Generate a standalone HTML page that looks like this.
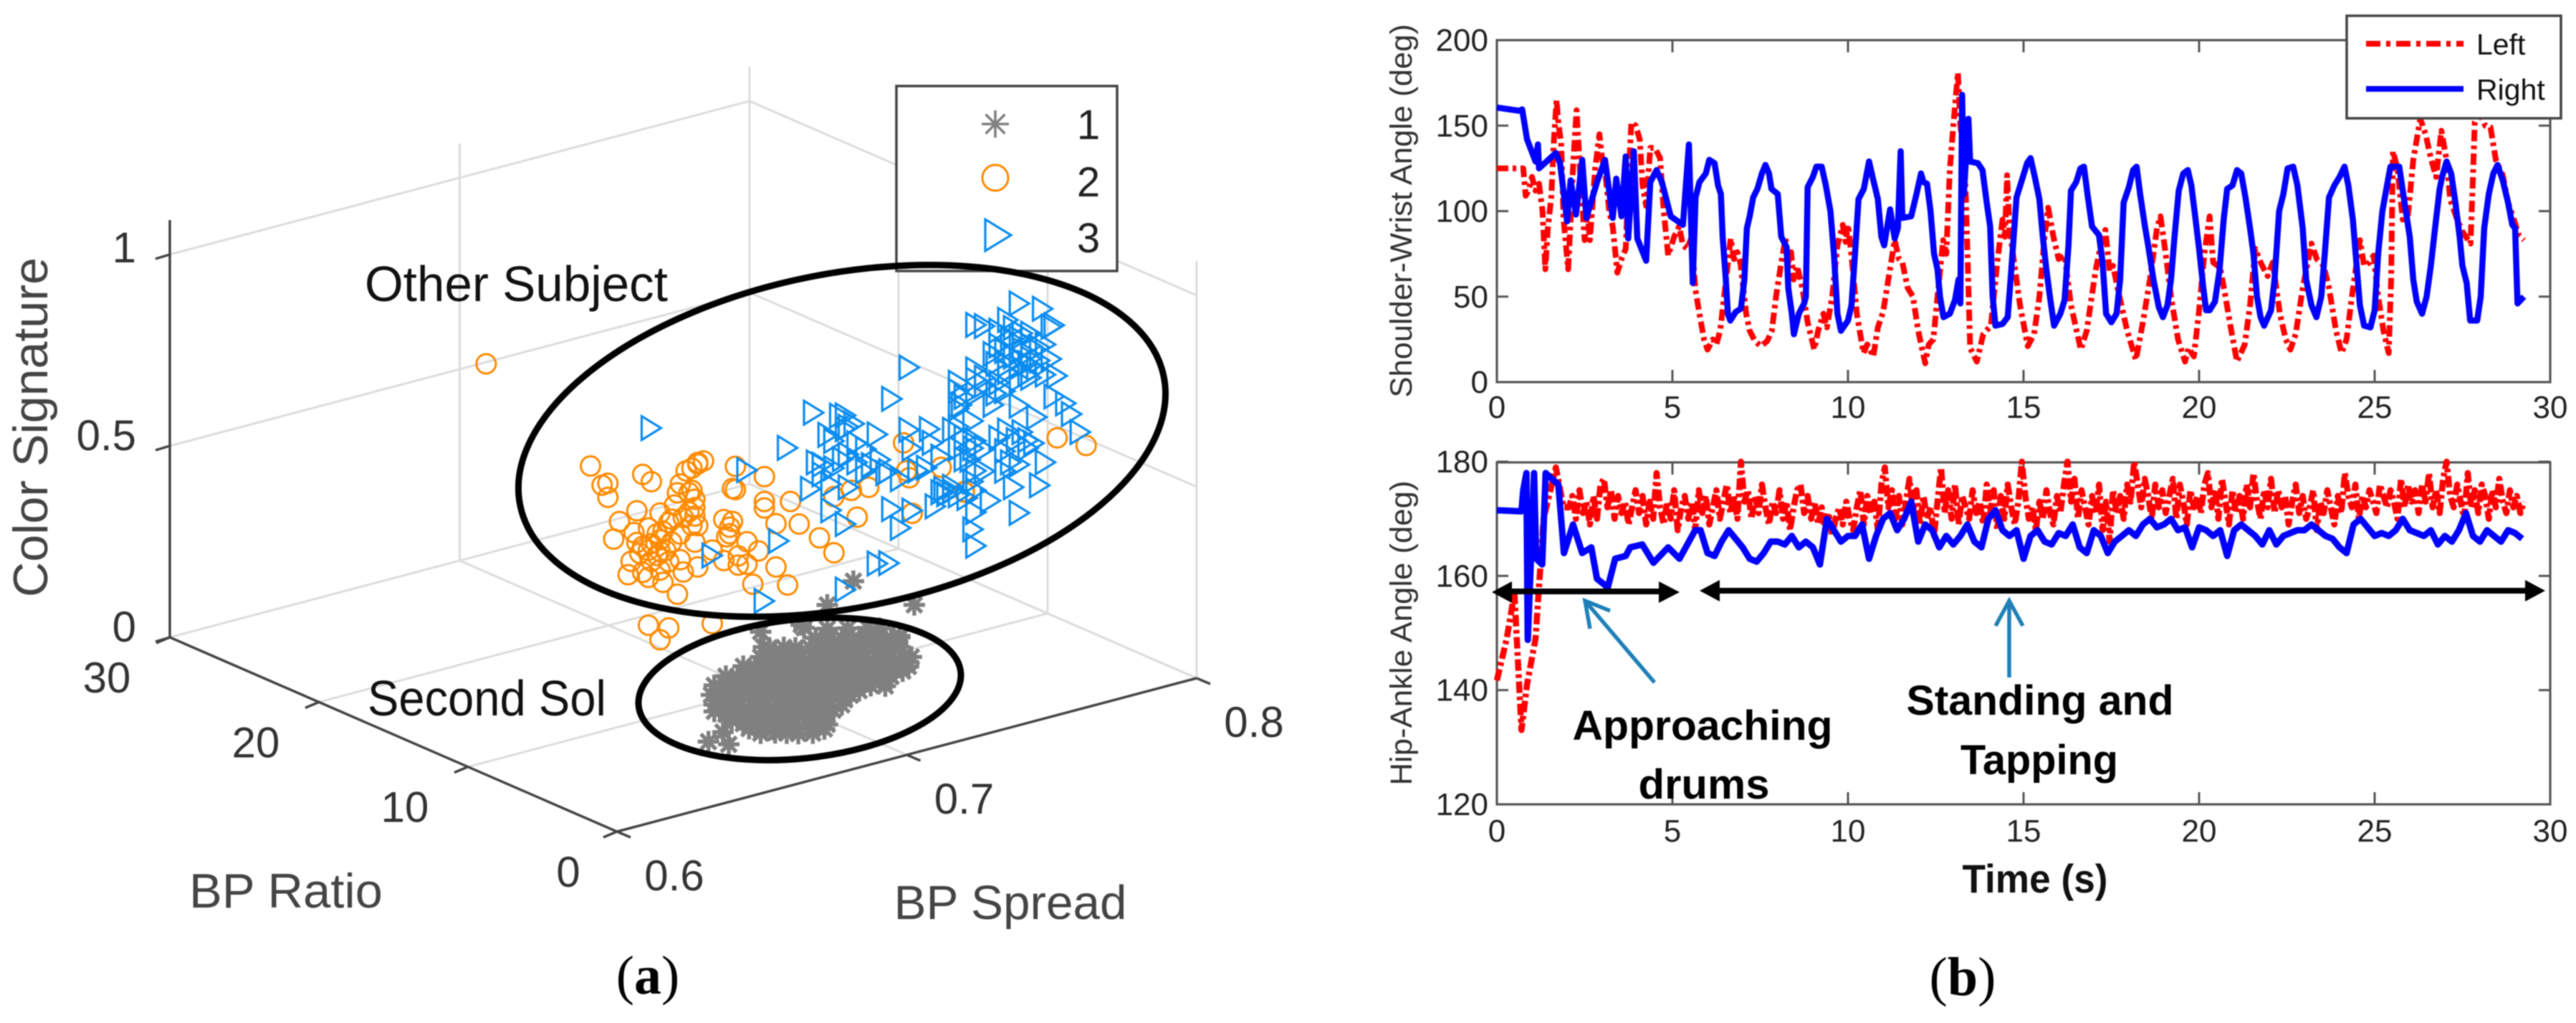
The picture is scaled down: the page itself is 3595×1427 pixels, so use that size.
<!DOCTYPE html>
<html>
<head>
<meta charset="utf-8">
<title>Body pose scatter and joint angle plots</title>
<style>
html,body{margin:0;padding:0;background:#fff;}
svg{display:block;filter:blur(0.7px);font-family:"Liberation Sans",sans-serif;}
</style>
</head>
<body>
<svg id="figure" xmlns="http://www.w3.org/2000/svg" width="3595" height="1427" viewBox="0 0 3595 1427">
<rect width="3595" height="1427" fill="#fff"/>
<g id="grid3d" stroke="#dcdcdc" stroke-width="3" fill="none"></g>
<g id="axes3d" stroke="#444" stroke-width="3.5" fill="none"></g>
<g id="labels3d" font-size="60" fill="#333"></g>
<g id="marks3d" fill="none"></g>

<text transform="translate(66,596) rotate(-90)" text-anchor="middle" font-size="68" fill="#444" textLength="474" lengthAdjust="spacingAndGlyphs">Color Signature</text>
<text x="399" y="1266" text-anchor="middle" font-size="68" fill="#444" textLength="270" lengthAdjust="spacingAndGlyphs">BP Ratio</text>
<text x="1410" y="1282" text-anchor="middle" font-size="67" fill="#444" textLength="325" lengthAdjust="spacingAndGlyphs">BP Spread</text>

<g>
<rect x="1251" y="120" width="308" height="258" fill="#fff" stroke="#444" stroke-width="3.5"/>
<g id="legend3d"></g>
<text x="1519" y="194" text-anchor="middle" font-size="58" fill="#222">1</text>
<text x="1519" y="274" text-anchor="middle" font-size="58" fill="#222">2</text>
<text x="1519" y="352" text-anchor="middle" font-size="58" fill="#222">3</text>
</g>

<ellipse cx="1175" cy="615" rx="458" ry="233" transform="rotate(-11.25 1175 615)" fill="none" stroke="#000" stroke-width="9"/>
<ellipse cx="1116" cy="961" rx="226" ry="97" transform="rotate(-6 1116 961)" fill="none" stroke="#000" stroke-width="9"/>
<text x="509" y="420" font-size="70" fill="#111" textLength="423" lengthAdjust="spacingAndGlyphs">Other Subject</text>
<text x="513" y="998" font-size="70" fill="#111" textLength="333" lengthAdjust="spacingAndGlyphs">Second Sol</text>
<text x="904" y="1386" text-anchor="middle" font-family="'Liberation Serif',serif" font-size="76" fill="#000">(<tspan font-weight="bold">a</tspan>)</text>

<g id="plotUpper"></g>
<g id="plotLower"></g>

<text transform="translate(1970,294) rotate(-90)" text-anchor="middle" font-size="43" fill="#333" textLength="521" lengthAdjust="spacingAndGlyphs">Shoulder-Wrist Angle (deg)</text>
<text transform="translate(1970,883) rotate(-90)" text-anchor="middle" font-size="43" fill="#333" textLength="425" lengthAdjust="spacingAndGlyphs">Hip-Ankle Angle (deg)</text>

<g>
<rect x="3275" y="22" width="299" height="143" fill="#fff" stroke="#444" stroke-width="3.5"/>
<line x1="3302" y1="61" x2="3438" y2="61" stroke="#f00" stroke-width="8" stroke-dasharray="20 8 6 8"/>
<line x1="3302" y1="124" x2="3438" y2="124" stroke="#00f" stroke-width="8"/>
<text x="3456" y="76" font-size="41" fill="#111">Left</text>
<text x="3456" y="139" font-size="41" fill="#111">Right</text>
</g>

<g>
<line x1="2100" y1="825" x2="2325" y2="825" stroke="#000" stroke-width="8"/>
<polygon points="2082,826 2110,811 2110,841" fill="#000"/>
<polygon points="2344,826 2315,811 2315,841" fill="#000"/>
</g>
<g>
<line x1="2390" y1="824" x2="3535" y2="824" stroke="#000" stroke-width="8"/>
<polygon points="2372,824 2400,809 2400,839" fill="#000"/>
<polygon points="3552,824 3524,809 3524,839" fill="#000"/>
</g>
<g stroke="#1f80b8" stroke-width="5.5" fill="none">
<line x1="2309" y1="952" x2="2212" y2="838"/>
<polyline points="2247,852 2212,838 2219,877"/>
</g>
<g stroke="#1f80b8" stroke-width="5.5" fill="none">
<line x1="2804" y1="945" x2="2804" y2="838"/>
<polyline points="2785,873 2804,838 2823,873"/>
</g>

<text x="2376" y="1032" text-anchor="middle" font-size="58" font-weight="bold" fill="#000" textLength="363" lengthAdjust="spacingAndGlyphs">Approaching</text>
<text x="2378" y="1114" text-anchor="middle" font-size="58" font-weight="bold" fill="#000" textLength="183" lengthAdjust="spacingAndGlyphs">drums</text>
<text x="2847" y="997" text-anchor="middle" font-size="58" font-weight="bold" fill="#000" textLength="373" lengthAdjust="spacingAndGlyphs">Standing and</text>
<text x="2846" y="1080" text-anchor="middle" font-size="58" font-weight="bold" fill="#000" textLength="220" lengthAdjust="spacingAndGlyphs">Tapping</text>
<text x="2840" y="1245" text-anchor="middle" font-size="56" font-weight="bold" fill="#111" textLength="203" lengthAdjust="spacingAndGlyphs">Time (s)</text>
<text x="2739" y="1388" text-anchor="middle" font-family="'Liberation Serif',serif" font-size="76" fill="#000">(<tspan font-weight="bold">b</tspan>)</text>
</svg>

<script>
/* ---------- panel (a) data ---------- */
const ratioTicks = [30, 20, 10, 0];
const spreadTicks = [0.6, 0.7, 0.8];
const signatureTicks = [0, 0.5, 1];
const cluster1Ratio = 3;
const cluster2Ratio = 15;
const cluster3Ratio = 15;

const cluster1Spread = [
.680,.688,.695,.702,.706,
.684,.688,.693,.697,.702,.706,.710,.713,
.666,.668,.673,.677,.682,.686,.690,.695,.699,.704,.708,.713,
.665,.670,.674,.678,.683,.687,.692,.696,.700,.705,.709,.714,.717,
.659,.663,.667,.672,.676,.681,.685,.689,.694,.698,.703,.707,.712,.716,
.653,.657,.662,.666,.671,.675,.680,.684,.688,.693,.697,.702,.706,.710,
.649,.653,.657,.662,.666,.671,.675,.680,.684,.688,.693,.697,.703,.708,
.648,.652,.656,.661,.665,.670,.674,.678,.683,.687,.692,.696,
.649,.653,.657,.662,.666,.671,.675,.680,.684,.688,.693,
.653,.657,.662,.666,.671,.675,.680,.684,.688,
.659,.663,.667,.672,.676,.681,.685,.688,
.665,.670,.674,.678,.683,
.647,.652,.654,.649,.665,.679,.713,.697,.718,.688,
.686,.690,.695,.699,.704,.708,.712,
.670,.675,.679,.684,.688,.692,.697,.701,.706,.710,
.667,.672,.676,.680,.685,.689,.694,.698,.702,.707,.711,.716,
.661,.665,.669,.674,.678,.683,.687,.691,.696,.700,.705,.709,.714,
.655,.659,.664,.668,.673,.677,.682,.686,.690,.695,.699,.704,.708,
.651,.655,.659,.664,.668,.673,.677,.682,.686,.690,.695,.699,
.650,.654,.658,.663,.667,.672,.676,.680,.685,.689,.694,
.651,.655,.659,.664,.668,.673,.677,.682,.686,.690,
.655,.659,.664,.668,.673,.677,.682,.686,
.661,.665,.669,.674,.678,.683,.687];
const cluster1Signature = [
.321,.303,.290,.277,.268,
.287,.278,.269,.261,.252,.243,.234,.230,
.299,.293,.284,.275,.266,.258,.249,.240,.231,.222,.213,.205,
.275,.266,.257,.248,.239,.230,.222,.213,.204,.195,.186,.177,.171,
.263,.254,.245,.236,.228,.219,.210,.201,.192,.183,.174,.166,.157,.148,
.249,.240,.231,.222,.214,.205,.196,.187,.178,.169,.161,.152,.143,.134,
.233,.224,.215,.206,.197,.189,.180,.171,.162,.153,.144,.136,.124,.113,
.210,.201,.192,.183,.175,.166,.157,.148,.139,.130,.122,.113,
.183,.174,.165,.156,.147,.139,.130,.121,.112,.103,.094,
.149,.140,.131,.122,.114,.105,.096,.087,.078,
.113,.104,.095,.086,.078,.069,.060,.053,
.076,.067,.058,.049,.040,
.090,.105,.069,.165,.341,.331,.234,.409,.305,.365,
.270,.261,.252,.244,.235,.226,.217,
.276,.267,.258,.249,.241,.232,.223,.214,.205,.196,
.258,.249,.240,.231,.222,.213,.205,.196,.187,.178,.169,.160,
.246,.237,.228,.219,.211,.202,.193,.184,.175,.166,.157,.149,.140,
.232,.223,.214,.205,.197,.188,.179,.170,.161,.152,.144,.135,.126,
.216,.207,.198,.189,.180,.172,.163,.154,.145,.136,.127,.119,
.193,.184,.175,.166,.158,.149,.140,.131,.122,.113,.105,
.166,.157,.148,.139,.130,.122,.113,.104,.095,.086,
.132,.123,.114,.105,.097,.088,.079,.070,
.096,.087,.078,.069,.061,.052,.043];

const cluster2Spread = [.632,
.668,.672,.674,.674,.686,.689,.701,.703,.705,.707,.705,.718,.717,.718,.728,.728,.728,.737,.732,.740,
.747,.752,.732,.736,.724,.726,.722,.715,.716,.714,.717,.703,.698,.704,.704,.704,.705,.697,.692,.684,
.678,.676,.683,.688,.695,.696,.700,.691,.692,.689,.686,.685,.692,.696,.694,.691,.699,.686,.681,.692,
.700,.705,.693,.698,.714,.719,.722,.710,.704,.688,.695,.692,.710,.752,.758,.764,.760,.779,.776,.777,
.778,.789,.797,.797,.829,.839,
.684,.688,.693,.699,.703,.702,.682,.689,.695,.688,.716,.719,.702,.699];
const cluster2Signature = [.904,
.565,.507,.508,.471,.507,.482,.486,.489,.496,.500,.500,.464,.408,.403,.417,.352,.335,.334,.286,.269,
.219,.170,.173,.118,.144,.227,.259,.286,.309,.333,.322,.431,.435,.406,.384,.362,.335,.405,.394,.416,
.400,.358,.361,.363,.363,.370,.366,.342,.324,.320,.319,.303,.294,.310,.292,.285,.258,.251,.255,.245,
.224,.227,.211,.170,.226,.204,.200,.261,.294,.109,.088,.063,.069,.317,.321,.317,.247,.219,.409,.334,
.314,.319,.238,.240,.316,.276,
.333,.305,.344,.325,.340,.377,.288,.274,.261,.234,.292,.228,.427,.456];

const cluster3Spread = [
.689,.736,.745,.772,.778,.816,.824,.801,.804,.827,.828,.812,.814,.816,.807,.811,.814,.817,.820,.823,
.827,.808,.812,.816,.819,.822,.825,.829,.795,.801,.804,.801,.797,.808,.811,.796,.795,.807,.816,.822,
.828,.832,.834,.837,.800,.778,.785,.793,.756,.759,.750,.757,.767,.752,.812,.815,.821,.797,.801,.786,
.746,.752,.748,.760,.768,.765,.770,.744,.757,.775,.781,.789,.799,.801,.811,.819,.825,.814,.823,.806,
.816,.793,.789,.787,.801,.800,.801,.775,.772,.779,.751,.756,.733,.710,.722,.767,.771,.756,.728,
.790,.793,.791,.816,.820,.823,.812,.819,.809,.813,.763,.757,.755,.795,.800,.804,.811,.813,
.754,.756,.760,.748,.751,.763,.771,.779,.784,.795,.797,.800,.804,.809,.817,.816,.819,.795,.798,.801,
.809,.816,.820,.809,.817,.820,.825,.801,.804,.795];
const cluster3Signature = [
.622,.476,.550,.532,.602,.693,.663,.667,.658,.610,.612,.658,.633,.602,.579,.579,.558,.570,.574,.564,
.526,.551,.541,.526,.531,.510,.489,.478,.528,.524,.504,.487,.487,.474,.474,.468,.460,.446,.426,.384,
.426,.400,.368,.315,.418,.439,.427,.409,.521,.493,.482,.489,.449,.462,.369,.338,.318,.381,.364,.389,
.418,.391,.383,.390,.381,.373,.342,.353,.331,.316,.327,.347,.319,.286,.317,.309,.260,.217,.204,.198,
.146,.260,.254,.221,.178,.135,.090,.189,.244,.226,.283,.237,.239,.247,.446,.112,.105,.066,.092,
.261,.248,.245,.548,.541,.530,.522,.502,.597,.607,.361,.417,.408,.356,.347,.279,.266,.284,
.524,.485,.440,.408,.351,.419,.345,.388,.328,.413,.324,.260,.337,.356,.355,.272,.330,.234,.221,.235,
.500,.494,.491,.636,.613,.606,.568,.551,.523,.506];

/* ---------- panel (b) data ---------- */
const timeTicks = [0, 5, 10, 15, 20, 25, 30];
const shoulderTicks = [0, 50, 100, 150, 200];
const hipTicks = [120, 140, 160, 180];

const shoulderRightTime = [0,.63,.72,.86,1.1,1.17,1.2,1.68,1.8,2,
2.1,2.25,2.43,2.55,2.85,3.08,3.3,3.4,3.55,3.67,
3.74,3.9,4,4.25,4.37,4.55,4.7,4.95,5.3,5.47,
5.58,5.66,5.77,5.95,6.05,6.2,6.3,6.38,6.43,6.52,6.58,6.65,6.8,6.95,
7.05,7.12,7.2,7.3,7.42,7.55,7.65,7.75,7.82,8.0,8.1,8.25,8.3,8.4,8.46,8.6,8.75,8.8,8.85,9.0,9.1,9.25,9.37,9.5,9.6,9.7,9.8,10,10.1,10.2,10.3,10.45,10.6,10.7,10.85,10.95,
11.03,11.2,11.33,11.42,11.5,11.55,11.8,11.95,12.08,12.15,12.25,12.35,12.45,12.55,12.62,12.72,12.9,13.05,13.15,13.2,13.25,13.3,13.43,13.48,13.7,13.83,13.95,14.05,14.12,14.2,14.4,14.55,14.65,14.8,14.95,
15.1,15.2,15.32,15.45,15.55,15.65,15.75,15.87,16.05,16.17,16.28,16.35,16.5,16.62,16.72,16.82,16.95,17.15,17.25,17.35,17.5,17.65,17.75,17.85,18,18.12,18.22,18.32,18.45,18.55,18.7,18.85,18.97,
19.1,19.2,19.3,19.42,19.55,19.68,19.78,19.9,20,20.12,20.2,20.3,20.45,20.58,20.7,20.8,20.95,21.08,21.2,21.32,21.45,21.55,21.65,21.75,21.85,22.05,22.15,22.28,22.4,22.52,22.68,22.8,22.95,
23.05,23.2,23.34,23.48,23.58,23.7,23.85,24,24.14,24.25,24.38,24.48,24.58,24.7,24.88,25,25.1,25.22,25.35,25.45,25.7,25.85,26,26.1,26.2,26.35,26.48,26.6,26.72,26.85,26.92,
27.05,27.18,27.3,27.42,27.5,27.62,27.72,27.92,28.02,28.12,28.25,28.38,28.5,28.65,28.8,28.92,29,29.07,29.25];
const shoulderRightDeg = [160.6,158.7,159.5,142,129,139,125,134,128,94,
118,98,130,96,117,130,96,119,97,132,
84,135,84,71,117,124,117,97,92,139,
58,108,117,122,130,128,115,110,85,60,40,36,41,43,
60,90,97,108,113,122,127,122,113,110,85,79,55,40,28,40,46,50,114,120,126,126,115,100,75,40,30,36,45,75,107,113,129,120,107,85,
80,101,84,90,135,96,97,110,122,117,116,100,75,66,50,38,40,48,60,46,168,110,154,129,128,124,105,91,50,33,34,38,65,108,118,
128,131,120,107,85,66,50,33,40,48,80,112,117,125,126,110,91,86,70,40,35,40,60,105,114,124,126,110,92,80,60,44,38,
45,60,85,112,122,124,115,95,78,55,42,42,47,65,95,113,115,124,122,108,90,75,50,38,33,42,60,100,110,125,126,115,90,
60,45,38,50,75,108,115,120,126,115,95,70,45,33,32,42,75,100,115,126,126,105,85,60,47,40,50,68,90,113,120,
129,122,105,85,68,58,36,36,50,90,110,122,127,118,105,92,90,46,50];

const shoulderLeftTime = [0,.75,.82,.9,1,1.1,1.2,1.3,1.38,1.45,1.55,1.62,1.7,1.76,1.83,1.9,2.03,2.1,2.18,2.27,2.38,2.5,2.58,2.65,2.8,2.92,3,3.08,3.2,3.3,3.43,3.55,3.67,3.75,3.83,3.95,4.07,4.15,4.25,4.37,4.5,4.65,4.75,4.88,5.05,5.19,5.3,5.42,5.55,5.65,5.75,5.9,
6,6.15,6.25,6.36,6.5,6.66,6.75,6.85,6.94,7.1,7.2,7.35,7.52,7.7,7.83,7.95,8.1,8.22,8.3,8.38,8.45,8.55,8.7,8.85,9.04,9.15,9.3,9.4,9.55,9.7,9.85,9.93,10,10.1,10.25,10.44,10.55,10.72,10.85,11,11.15,11.33,11.45,11.55,11.7,11.85,
12,12.2,12.3,12.43,12.55,12.71,12.8,12.9,13,13.13,13.2,13.3,13.36,13.48,13.67,13.85,14.07,14.25,14.4,14.47,14.53,14.6,14.76,14.9,15.12,15.3,15.45,15.6,15.7,15.85,16,16.17,16.35,16.63,16.8,17.05,17.2,17.33,17.45,17.55,17.7,17.95,
18.2,18.4,18.6,18.8,18.9,19.05,19.2,19.4,19.6,19.7,19.85,20,20.15,20.3,20.4,20.6,20.75,20.9,21.08,21.3,21.45,21.6,21.75,21.95,22.1,22.3,22.47,22.6,22.75,22.95,23.2,23.35,23.55,23.7,23.9,24.06,24.2,24.35,24.58,24.7,24.85,24.97,
25.1,25.25,25.4,25.47,25.52,25.65,25.8,25.95,26.1,26.3,26.45,26.6,26.75,26.9,27.05,27.15,27.35,27.5,27.73,27.8,27.85,28,28.15,28.3,28.45,28.65,28.8,28.95,29.1,29.25];
const shoulderLeftDeg = [125,125,109,112,120,112,116,100,66,90,108,140,165,150,140,95,66,95,130,159,120,83,100,83,125,145,130,124,100,91,64,72,78,120,152,150,142,115,103,137,137,131,100,74,85,91,80,78,85,55,42,25,
19,25,22,30,55,84,72,76,69,40,30,24,21,24,30,50,70,84,70,76,60,68,55,35,19,30,40,32,50,80,92,82,92,74,40,17,22,15,32,41,60,83,72,70,55,50,
30,11,22,25,50,83,75,124,150,181,150,135,107,20,12,28,33,70,95,85,121,90,66,45,21,28,50,85,102,85,72,74,45,19,30,65,80,89,65,68,53,30,
13,35,60,90,97,75,50,25,12,20,15,42,75,97,70,67,50,32,12,22,45,78,70,62,70,40,25,19,28,55,81,72,68,55,30,17,25,50,83,68,70,74,
50,30,17,60,135,125,95,98,130,154,145,131,120,147,130,107,95,88,81,120,152,157,150,149,130,121,105,96,86,83];

const hipLeftHeadTime = [0,.28,.5,.7,.86,1.1,1.33,1.68,1.9];
const hipLeftHeadDeg = [141.7,149,157,133,141,149,170,179,172];
const hipLeftBandStart = 2.05;
const hipLeftBandStep = 0.1;
const hipLeftBandDeg = [
172,174,170,175,171,173,169,174,170,176,177,172,175,170,174,171,173,169,172,175,
171,174,169,173,170,178,172,169,173,170,175,168,172,174,170,173,168,175,171,174,
169,172,175,170,173,176,171,174,170,180,173,175,170,174,171,176,172,169,173,171,
175,170,173,168,172,175,176,171,174,170,173,169,172,168,171,167,170,172,169,173,
170,168,172,175,169,174,171,173,168,176,179,172,175,170,174,169,173,177,171,175,
169,174,170,172,167,173,179,171,175,170,176,169,174,172,170,175,171,173,169,176,
171,175,168,174,170,176,172,169,173,180,174,170,172,168,173,170,175,171,169,174,
171,176,180,173,177,170,175,172,169,174,171,176,168,173,166,175,171,174,170,176,
173,180,176,172,177,174,170,176,172,175,171,174,177,170,176,173,169,175,172,174,
171,176,178,172,175,170,177,173,169,175,171,174,170,176,172,178,173,170,175,172,
177,171,175,172,174,169,173,176,171,174,170,172,175,168,173,171,175,172,169,174,
171,178,174,172,176,170,174,172,175,173,171,176,174,172,175,173,170,177,172,176,
173,175,171,176,173,178,172,175,171,177,180,174,172,176,173,170,178,172,175,171,
176,174,170,175,172,177,173,171,175,172,174,171,173];

const hipRightHeadTime = [0,.7,.75,.84,.88,.95,1.06,1.12,1.29,1.39,1.75,1.91,2.17,2.43,2.69,2.85,3.16,3.37,3.67,3.8,4.14,4.46,4.88,5.2,5.65];
const hipRightHeadDeg = [171.5,171.3,175,178,148.8,160,178,163,162,178,176,164,169,164,165,159.5,158,163,163.5,165,165.5,162.3,165,163,168];
const hipRightBandStart = 5.8;
const hipRightBandStep = 0.2;
const hipRightBandDeg = [
168,164,163.5,166,168,166.5,165,163,162.5,164,166,166,165.5,167,165,166,165,162,170,168,
166,167,167,169,163,167,170,171,168,170,173,166,169,168,165,167,165.5,167,169,166,
165,170,171.5,168,167,168,163,167,168,166,165.5,167.5,167,169,165,164,168,167,164,166,
167,168,167,169,170,168.5,169,170,168,168.5,165,168.5,168,167,168,163.5,168,169,168,167,
165.5,168,165.5,167,167.5,168,168,169,168,167,166.5,165,164,169,170,168.5,167,167.5,167,168,
170,168,167.5,167,168,165.5,167,166,168,171,167,166,168,167,166,168,167.5,166.5];

/* ---------- helpers ---------- */
const SVGNS = 'http://www.w3.org/2000/svg';
function mk(tag, parent, props) {
  const e = document.createElementNS(SVGNS, tag);
  for (const k in props) e.setAttribute(k, props[k]);
  parent.appendChild(e);
  return e;
}

/* ---------- panel (a) projection ---------- */
const cornerX = 237, cornerY = 889;
const ratioDX = 624, ratioDY = 271;
const spreadDX = 809, spreadDY = -214;
const signaturePx = 534;
function proj(spread, ratio, sig) {
  const u = (30 - ratio) / 30;
  const v = (spread - 0.6) / 0.2;
  return [cornerX + ratioDX * u + spreadDX * v, cornerY + ratioDY * u + spreadDY * v - signaturePx * sig];
}
function segment(parent, a, b) {
  return mk('line', parent, {x1: a[0], y1: a[1], x2: b[0], y2: b[1]});
}

const grid = document.getElementById('grid3d');
const axes3d = document.getElementById('axes3d');
const labels3d = document.getElementById('labels3d');
const topSig = 1.09;

signatureTicks.forEach(function (c) {
  const g1 = segment(grid, proj(0.6, 30, c), proj(0.8, 30, c));
  
  
  const g2 = segment(grid, proj(0.8, 30, c), proj(0.8, 0, c));
  
  
});
spreadTicks.slice(1).forEach(function (s) {
  const g1 = segment(grid, proj(s, 30, 0), proj(s, 30, topSig));
  
  
  const g2 = segment(grid, proj(s, 30, 0), proj(s, 0, 0));
  
  
});
ratioTicks.slice(1).forEach(function (r) {
  const g1 = segment(grid, proj(0.8, r, 0), proj(0.8, r, topSig));
  
  
  const g2 = segment(grid, proj(0.6, r, 0), proj(0.8, r, 0));
  
  
});

const zAxisLine = segment(axes3d, proj(0.6, 30, 0), proj(0.6, 30, topSig));


const ratioAxisLine = segment(axes3d, proj(0.6, 30, 0), proj(0.6, 0, 0));


const spreadAxisLine = segment(axes3d, proj(0.6, 0, 0), proj(0.8, 0, 0));



signatureTicks.forEach(function (c) {
  const p = proj(0.6, 30, c);
  const t = mk('line', axes3d, {x1: p[0] - 20, y1: p[1] + 6, x2: p[0], y2: p[1]});
  
  
  const l = mk('text', labels3d, {x: p[0] - 47, y: p[1] + 6 + (c === 1 ? 5 : 0), 'text-anchor': 'end'});
  
  
  l.textContent = String(c);
});
ratioTicks.forEach(function (r) {
  const p = proj(0.6, r, 0);
  const t = mk('line', axes3d, {x1: p[0], y1: p[1], x2: p[0] - 19, y2: p[1] + 8});
  
  
  const l = mk('text', labels3d, {x: p[0] - (r === 0 ? 68 : 88), y: p[1] + 77, 'text-anchor': 'middle'});
  
  
  l.textContent = String(r);
});
spreadTicks.forEach(function (s) {
  const p = proj(s, 0, 0);
  const t = mk('line', axes3d, {x1: p[0], y1: p[1], x2: p[0] + 19, y2: p[1] + 8});
  
  
  const l = mk('text', labels3d, {x: p[0] + 80, y: p[1] + 82, 'text-anchor': 'middle'});
  
  
  l.textContent = s.toFixed(1);
});

/* ---------- markers ---------- */
function circleMark(parent, x, y, r) {
  return mk('circle', parent, {cx: x, cy: y, r: r, fill: 'none', stroke: '#ff8a00', 'stroke-width': 3});
}
function triMark(parent, x, y, w, h) {
  return mk('polygon', parent, {points: (x - w / 2) + ',' + (y - h / 2) + ' ' + (x + w / 2) + ',' + y + ' ' + (x - w / 2) + ',' + (y + h / 2), fill: 'none', stroke: '#0a8cf0', 'stroke-width': 3.2});
}
function starMark(parent, x, y, r, sw) {
  const g = mk('g', parent, {stroke: '#808080', 'stroke-width': sw});
  const k = r * 0.707;
  mk('line', g, {x1: x - r, y1: y, x2: x + r, y2: y});
  mk('line', g, {x1: x, y1: y - r, x2: x, y2: y + r});
  mk('line', g, {x1: x - k, y1: y - k, x2: x + k, y2: y + k});
  mk('line', g, {x1: x - k, y1: y + k, x2: x + k, y2: y - k});
  return g;
}
const marks = document.getElementById('marks3d');
cluster1Spread.forEach(function (s, i) {
  const p = proj(s, cluster1Ratio, cluster1Signature[i]);
  const m = starMark(marks, p[0], p[1], 15, 5.5);
  
  
});
cluster2Spread.forEach(function (s, i) {
  const p = proj(s, cluster2Ratio, cluster2Signature[i]);
  const m = circleMark(marks, p[0], p[1], 13.5);
  
  
});
cluster3Spread.forEach(function (s, i) {
  const p = proj(s, cluster3Ratio, cluster3Signature[i]);
  const m = triMark(marks, p[0], p[1], 27, 33);
  
  
});

const legend3d = document.getElementById('legend3d');
const lg1 = starMark(legend3d, 1389, 173, 19, 3.6);


const lg2 = circleMark(legend3d, 1389, 248, 18);


const lg3 = triMark(legend3d, 1393, 328, 36, 44);



/* ---------- panel (b) ---------- */
const plotLeft = 2089, pxPerSecond = 49;
function xTime(t) { return plotLeft + pxPerSecond * t; }
function yShoulder(v) { return 533 - v * 2.385; }
function yHip(v) { return 1122 - (v - 120) * (478 / 60); }
const plotRight = xTime(30);

function frame(parent, yTop, yBottom, yTicks, yFn, labelBaseline) {
  const box = mk('rect', parent, {x: plotLeft, y: yTop, width: plotRight - plotLeft, height: yBottom - yTop, fill: 'none', stroke: '#555', 'stroke-width': 3.2});
  
  
  timeTicks.forEach(function (t) {
    if (t > 0 && t < 30) {
      const a = mk('line', parent, {x1: xTime(t), y1: yBottom, x2: xTime(t), y2: yBottom - 17, stroke: '#555', 'stroke-width': 3});
      
      
      const b = mk('line', parent, {x1: xTime(t), y1: yTop, x2: xTime(t), y2: yTop + 17, stroke: '#555', 'stroke-width': 3});
      
      
    }
    const l = mk('text', parent, {x: xTime(t), y: labelBaseline, 'text-anchor': 'middle', 'font-size': 44, fill: '#222'});
    
    
    l.textContent = String(t);
  });
  yTicks.forEach(function (v) {
    const y = yFn(v);
    const a = mk('line', parent, {x1: plotLeft, y1: y, x2: plotLeft + 16, y2: y, stroke: '#555', 'stroke-width': 3});
    
    
    const b = mk('line', parent, {x1: plotRight, y1: y, x2: plotRight - 16, y2: y, stroke: '#555', 'stroke-width': 3});
    
    
    const l = mk('text', parent, {x: 2077, y: y + 15, 'text-anchor': 'end', 'font-size': 44, fill: '#222'});
    
    
    l.textContent = String(v);
  });
}
function seriesPath(parent, times, vals, yFn, color, width, dash) {
  let d = '';
  const n = Math.min(times.length, vals.length);
  for (let i = 0; i < n; i++) {
    d += (i ? 'L' : 'M') + xTime(times[i]).toFixed(1) + ' ' + yFn(vals[i]).toFixed(1);
  }
  const props = {d: d, fill: 'none', stroke: color, 'stroke-width': width, 'stroke-linejoin': 'round'};
  if (dash) props['stroke-dasharray'] = dash;
  return mk('path', parent, props);
}

const upper = document.getElementById('plotUpper');
const lower = document.getElementById('plotLower');
frame(upper, 56, 533, shoulderTicks, yShoulder, 583);
frame(lower, 645, 1122, hipTicks, yHip, 1174);

const upperLeft = seriesPath(upper, shoulderLeftTime, shoulderLeftDeg, yShoulder, '#f00', 8, '16 6 5 6');


const upperRight = seriesPath(upper, shoulderRightTime, shoulderRightDeg, yShoulder, '#00f', 8.5);



const hipLeftTime = hipLeftHeadTime.slice();
const hipLeftDeg = hipLeftHeadDeg.slice();
hipLeftBandDeg.forEach(function (v, i) {
  hipLeftTime.push(hipLeftBandStart + i * hipLeftBandStep);
  hipLeftDeg.push(v);
});
const hipRightTime = hipRightHeadTime.slice();
const hipRightDeg = hipRightHeadDeg.slice();
hipRightBandDeg.forEach(function (v, i) {
  hipRightTime.push(hipRightBandStart + i * hipRightBandStep);
  hipRightDeg.push(v);
});
const lowerLeft = seriesPath(lower, hipLeftTime, hipLeftDeg, yHip, '#f00', 8.5, '16 5 5 5');


const lowerRight = seriesPath(lower, hipRightTime, hipRightDeg, yHip, '#00f', 9);


</script>
</body>
</html>
